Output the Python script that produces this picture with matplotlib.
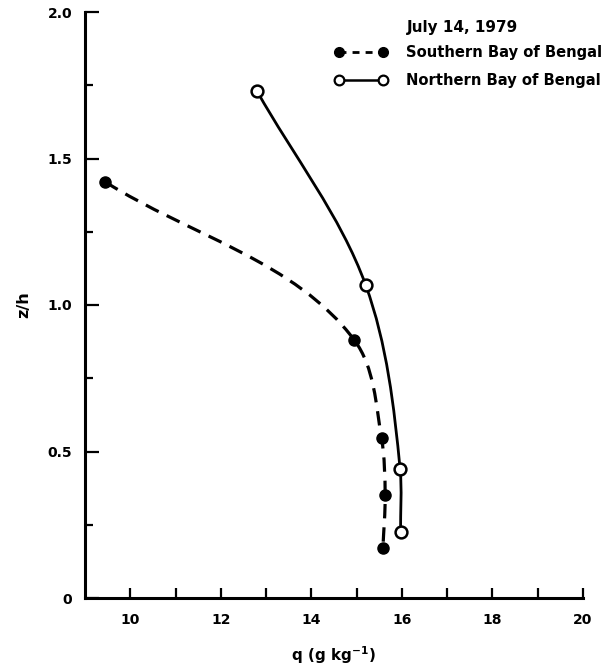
import matplotlib
matplotlib.use("Agg")
import matplotlib.pyplot as plt
import numpy as np
from matplotlib.path import Path
from matplotlib.patches import PathPatch
from matplotlib.lines import Line2D

# data
south_q = [9.45, 14.95, 15.55, 15.63, 15.58]
south_z = [1.42, 0.88, 0.545, 0.35, 0.17]
north_q = [12.8, 15.2, 15.96, 15.97]
north_z = [1.73, 1.068, 0.44, 0.224]

x_ticks_major = [10, 12, 14, 16, 18, 20]
y_ticks_major = [0, 0.5, 1.0, 1.5, 2.0]
y_tick_labels = ['0', '0.5', '1.0', '1.5', '2.0']

plt.rcParams['font.family'] = ['DejaVu Sans']
plt.rcParams['font.weight'] = 'bold'

fig = plt.figure(figsize=(6.1, 6.72), dpi=100)
ax = fig.add_axes([85 / 610, 1 - 598 / 672, 498 / 610, 586 / 672])
ax.set_xlim(9, 20)
ax.set_ylim(0, 2.0)


def smooth_path(xs, ys):
    # smooth curve through the points, cubic bezier segments built in display space
    pts = ax.transData.transform(np.column_stack([xs, ys]))
    n = len(pts)
    unit = []
    for i in range(n - 1):
        d = pts[i + 1] - pts[i]
        unit.append(d / np.hypot(*d))
    tang = []
    for i in range(n):
        if i == 0:
            t = unit[0]
        elif i == n - 1:
            t = unit[-1]
        else:
            t = unit[i - 1] + unit[i]
        tang.append(t / np.hypot(*t))
    verts = [pts[0]]
    codes = [Path.MOVETO]
    for i in range(n - 1):
        seg = np.hypot(*(pts[i + 1] - pts[i])) / 3
        verts += [pts[i] + tang[i] * seg, pts[i + 1] - tang[i + 1] * seg, pts[i + 1]]
        codes += [Path.CURVE4] * 3
    verts = ax.transData.inverted().transform(np.array(verts))
    return Path(verts, codes)


ax.add_patch(PathPatch(smooth_path(south_q, south_z), fill=False, lw=2.3,
                       ls=(0, (4.5, 2.8)), color='black'))
ax.add_patch(PathPatch(smooth_path(north_q, north_z), fill=False, lw=2.0,
                       color='black'))
ax.plot(south_q, south_z, 'o', ms=8, color='black', zorder=3)
ax.plot(north_q, north_z, 'o', ms=8.5, mfc='white', mec='black', mew=1.8, zorder=3)

# axes styling
for s in ['top', 'right']:
    ax.spines[s].set_visible(False)
for s in ['left', 'bottom']:
    ax.spines[s].set_linewidth(2.2)

ax.set_xticks(np.arange(10, 21, 1), minor=True)
ax.set_xticks(x_ticks_major)
ax.set_xticklabels([str(t) for t in x_ticks_major])
ax.set_yticks(np.arange(0, 2.01, 0.25), minor=True)
ax.set_yticks(y_ticks_major)
ax.set_yticklabels(y_tick_labels)
ax.tick_params(axis='x', which='both', direction='in', length=7, width=1.6, pad=11,
               labelsize=10)
ax.tick_params(axis='y', which='major', direction='in', length=10, width=1.6, pad=9,
               labelsize=10)
ax.tick_params(axis='y', which='minor', direction='in', length=6, width=1.6)

ax.set_xlabel('q (g kg$^{\\mathbf{-1}}$)', fontsize=11, fontweight='bold', labelpad=12)
ax.set_ylabel('z/h', fontsize=11.5, fontweight='bold', labelpad=12)

# legend
handles = [
    Line2D([], [], color='black', ls=(0, (2.5, 2.2)), lw=2, marker='o', ms=7),
    Line2D([], [], color='black', lw=1.8, marker='o', ms=7, mfc='white', mew=1.6),
]
ax.legend(handles, ['Southern Bay of Bengal', 'Northern Bay of Bengal'],
          loc='upper left', bbox_to_anchor=(0.501, 0.943), frameon=False,
          numpoints=2, handlelength=3.6, handletextpad=1.27, labelspacing=0.84,
          borderpad=0, borderaxespad=0, fontsize=10.6)
ax.text(0.647, 0.974, 'July 14, 1979', transform=ax.transAxes, fontsize=11,
        ha='left', va='center')

fig.savefig('out.png', dpi=100)
